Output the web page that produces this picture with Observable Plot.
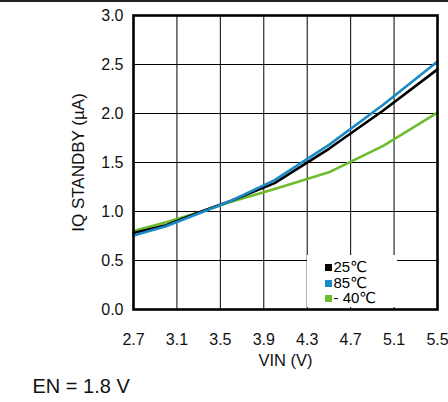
<!DOCTYPE html>
<html>
<head>
<meta charset="utf-8">
<script src="https://cdn.jsdelivr.net/npm/d3@7"></script>
<script src="https://cdn.jsdelivr.net/npm/@observablehq/plot@0.6"></script>
<style>
  html, body { margin: 0; padding: 0; background: #fff; }
  #wrap { position: relative; width: 448px; height: 402px; border-top: 2px solid #222; box-sizing: border-box; font-family: "Liberation Sans", Arial, sans-serif; }
  #legend { position: absolute; left: 307px; top: 253px; width: 90px; height: 52px; background: #fff; }
  .item { position: absolute; left: 18px; font-size: 15px; line-height: 15px; color: #000; white-space: nowrap; font-family: "Liberation Sans", "DejaVu Sans", sans-serif; }
  .sw { display: inline-block; width: 6.5px; height: 7px; margin-right: 2px; vertical-align: 1px; }
</style>
</head>
<body>
<div id="wrap"><div id="legend"></div></div>
<script>
const vin   = [2.7, 3.0, 3.3, 3.6, 4.0, 4.5, 5.0, 5.5];
const iq25  = [0.78, 0.86, 0.99, 1.11, 1.29, 1.64, 2.03, 2.45];
const iq85  = [0.755, 0.85, 0.98, 1.11, 1.32, 1.68, 2.09, 2.53];
const iqm40 = [0.80, 0.89, 0.99, 1.10, 1.23, 1.40, 1.67, 2.01];

const series = [
  {name: "- 40℃", values: iqm40, color: "#6dbb2f"},
  {name: "25℃", values: iq25, color: "#000000"},
  {name: "85℃", values: iq85, color: "#1a8ac6"}
];
const legendOrder = ["25℃", "85℃", "- 40℃"];

const xTicks = [2.7, 3.1, 3.5, 3.9, 4.3, 4.7, 5.1, 5.5];
const yTicks = [0, 0.5, 1.0, 1.5, 2.0, 2.5, 3.0];

const rows = series.flatMap(s => vin.map((v, i) => ({vin: v, iq: s.values[i], name: s.name})));

const font = "Liberation Sans, Arial, sans-serif";

const chart = Plot.plot({
  width: 448,
  height: 400,
  marginTop: 13,
  marginBottom: 93,
  marginLeft: 133,
  marginRight: 11,
  style: {fontFamily: font, background: "#fff", overflow: "visible"},
  x: {domain: [2.7, 5.5]},
  y: {domain: [0, 3]},
  color: {domain: series.map(s => s.name), range: series.map(s => s.color)},
  marks: [
    Plot.gridX(xTicks, {stroke: "#000", strokeOpacity: 1, strokeWidth: 1}),
    Plot.gridY(yTicks, {stroke: "#000", strokeOpacity: 1, strokeWidth: 1}),
    Plot.axisX(xTicks, {tickSize: 0, tickPadding: 24, fontSize: 16, tickFormat: d => d.toFixed(1), label: null, fill: "#111"}),
    Plot.axisY(yTicks, {tickSize: 0, tickPadding: 10, fontSize: 16, tickFormat: d => d.toFixed(1), label: null, fill: "#111"}),
    Plot.line(rows, {x: "vin", y: "iq", z: "name", stroke: "name", strokeWidth: 2.6}),
    Plot.frame({stroke: "#000", strokeWidth: 2.6}),
    Plot.text(["VIN (V)"], {frameAnchor: "bottom", dy: 51, lineAnchor: "middle", fontSize: 16.5, fill: "#111"}),
    Plot.text(["IQ STANDBY (µA)"], {frameAnchor: "left", dx: -55, rotate: -90, textAnchor: "middle", lineAnchor: "middle", fontSize: 17, fill: "#111"}),
    Plot.text(["EN = 1.8 V"], {frameAnchor: "bottom-left", dx: -101, dy: 77.5, textAnchor: "start", lineAnchor: "middle", fontSize: 20, fill: "#111"})
  ]
});

const wrap = document.getElementById("wrap");
wrap.insertBefore(chart, wrap.firstChild);

const legend = document.getElementById("legend");
legendOrder.forEach((n, i) => {
  const s = series.find(d => d.name === n);
  const div = document.createElement("div");
  div.className = "item";
  div.style.top = (4 + i * 15.7) + "px";
  div.innerHTML = `<span class="sw" style="background:${s.color}"></span>${n}`;
  legend.appendChild(div);
});
</script>
</body>
</html>
